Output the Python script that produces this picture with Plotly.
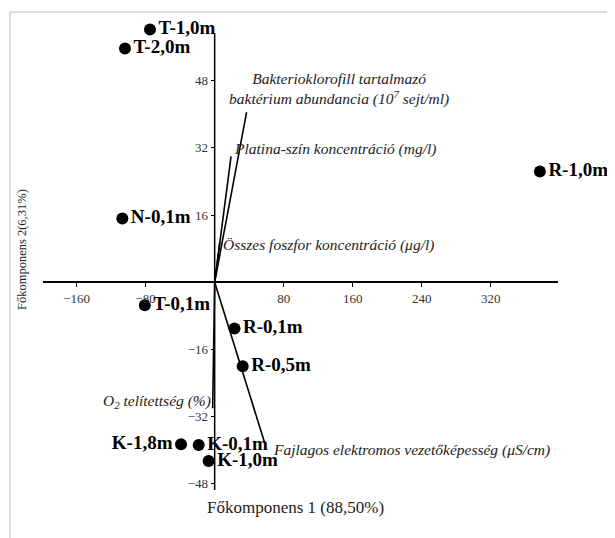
import plotly.graph_objects as go

# Sample scores (PC1, PC2)
sample_names = ["T-1,0m", "T-2,0m", "N-0,1m", "T-0,1m", "R-0,1m", "R-0,5m",
                "K-1,8m", "K-0,1m", "K-1,0m", "R-1,0m"]
pc1_scores = [-75, -104, -107, -81, 23, 32.5, -39, -18.5, -7, 377]
pc2_scores = [60.2, 55.7, 15.2, -5.5, -11, -20, -38.6, -38.8, -42.6, 26.4]
label_sides = ["middle right"] * 6 + ["middle left"] + ["middle right"] * 3

# Variable loadings (vector ends)
var_names = ["Bakterioklorofill tartalmazó<br>baktérium abundancia (10<sup>7</sup> sejt/ml)",
             "Platina-szín koncentráció (mg/l)",
             "Összes foszfor koncentráció (μg/l)",
             "O<sub>2</sub> telítettség (%)",
             "Fajlagos elektromos vezetőképesség (μS/cm)"]
load_pc1 = [37, 19, 6, -2.3, 58]
load_pc2 = [40.5, 30, 9.5, -30, -38.3]

x_ticks = [-160, -80, 80, 160, 240, 320]
y_ticks = [-48, -32, -16, 16, 32, 48]

x_title = "Főkomponens 1 (88,50%)"
y_title = "Főkomponens 2(6,31%)"

xr = [-199, 398]
yr = [-49.5, 62.0]
y_axis_top = 59.3

SERIF = "Liberation Serif, Times New Roman, serif"

# plot area in screenshot pixels (page has 8px body margin)
PL, PT, PW, PH = 43, 22, 515, 468


def px(xp):
    return (xp - PL) / PW


def py(yp):
    return (PT + PH - yp) / PH


fig = go.Figure()

# vertical axis line (drawn to the axis extent)
fig.add_shape(type="line", xref="x", yref="y", x0=0, x1=0, y0=yr[0], y1=y_axis_top,
              line=dict(color="black", width=1.5))

# loading vectors
for i in range(len(var_names)):
    fig.add_trace(go.Scatter(x=[0, load_pc1[i]], y=[0, load_pc2[i]], mode="lines",
                             line=dict(color="black", width=1.6),
                             showlegend=False, hoverinfo="skip"))

# sample points
fig.add_trace(go.Scatter(x=pc1_scores, y=pc2_scores, mode="markers+text",
                         text=sample_names, textposition=label_sides,
                         marker=dict(color="black", size=12),
                         textfont=dict(family=SERIF, size=19, color="black", weight="bold"),
                         cliponaxis=False, showlegend=False))

# vector label placements (anchor, shifts in px)
label_style = [
    dict(xanchor="center", yanchor="bottom", xshift=92, yshift=2, align="center"),
    dict(xanchor="left", yanchor="middle", xshift=1, yshift=7, align="left"),
    dict(xanchor="left", yanchor="middle", xshift=1, yshift=-3, align="left"),
    dict(xanchor="right", yanchor="middle", xshift=0, yshift=7, align="right"),
    dict(xanchor="left", yanchor="middle", xshift=6, yshift=-7, align="left"),
]
for i, nm in enumerate(var_names):
    fig.add_annotation(x=load_pc1[i], y=load_pc2[i], text="<i>" + nm + "</i>",
                       showarrow=False, font=dict(family=SERIF, size=15.5, color="#222"),
                       **label_style[i])

# axis titles
fig.add_annotation(xref="paper", yref="paper", x=px(295), y=py(507),
                   text=x_title, showarrow=False, xanchor="center", yanchor="middle",
                   font=dict(family=SERIF, size=17, color="#222"))
fig.add_annotation(xref="paper", yref="paper", x=px(22), y=py(250),
                   text=y_title, showarrow=False, textangle=-90, xanchor="center", yanchor="middle",
                   font=dict(family=SERIF, size=12.5, color="#222"))

# outer frame
frame = dict(type="line", xref="paper", yref="paper", line=dict(color="#bbbbbb", width=1))
fig.add_shape(x0=px(10), x1=px(10), y0=py(12), y1=py(560), **frame)
fig.add_shape(x0=px(10), x1=px(612), y0=py(12), y1=py(12), **frame)
fig.add_shape(x0=px(611), x1=px(611), y0=py(12), y1=py(560),
              type="line", xref="paper", yref="paper", line=dict(color="#e4e4e4", width=1))

fig.update_layout(
    width=615, height=538,
    margin=dict(l=PL - 8, r=615 - (PL - 8) - PW, t=PT - 8, b=538 - (PT - 8) - PH),
    paper_bgcolor="white", plot_bgcolor="white",
    xaxis=dict(range=xr, showgrid=False, zeroline=False, showline=True, linecolor="black", linewidth=1.5,
               anchor="free", position=(0 - yr[0]) / (yr[1] - yr[0]),
               ticks="outside", ticklen=4, tickcolor="black", tickvals=x_ticks,
               tickfont=dict(family=SERIF, size=13, color="#333")),
    yaxis=dict(range=yr, showgrid=False, zeroline=False, showline=False,
               anchor="free", position=(0 - xr[0]) / (xr[1] - xr[0]),
               ticks="outside", ticklen=4, tickcolor="black", tickvals=y_ticks,
               tickfont=dict(family=SERIF, size=13, color="#333")),
)

fig.write_html("out.html")
